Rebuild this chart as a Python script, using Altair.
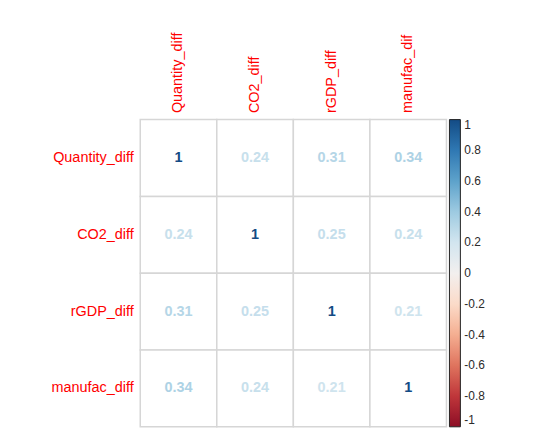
import altair as alt
import pandas as pd

variables = ["Quantity_diff", "CO2_diff", "rGDP_diff", "manufac_diff"]
col_labels = ["Quantity_diff", "CO2_diff", "rGDP_diff", "manufac_dif"]
corr = [
    [1.00, 0.24, 0.31, 0.34],
    [0.24, 1.00, 0.25, 0.24],
    [0.31, 0.25, 1.00, 0.21],
    [0.34, 0.24, 0.21, 1.00],
]
legend_ticks = [1, 0.8, 0.6, 0.4, 0.2, 0, -0.2, -0.4, -0.6, -0.8, -1]

rows = []
for i, rv in enumerate(variables):
    for j, cv in enumerate(col_labels):
        v = corr[i][j]
        rows.append({"row": rv, "col": cv, "value": v,
                     "label": "1" if v == 1 else f"{v:.2f}"})
df = pd.DataFrame(rows)

x = alt.X("col:N", sort=col_labels, title=None,
          axis=alt.Axis(orient="top", labelAngle=-90, labelColor="#FF0000",
                        labelFontSize=14.5, labelFont="Liberation Sans",
                        ticks=False, domain=False, labelPadding=7))
y = alt.Y("row:N", sort=variables, title=None,
          axis=alt.Axis(labelColor="#FF0000", labelFontSize=14.5,
                        labelFont="Liberation Sans", ticks=False,
                        domain=False, labelPadding=7))

color_scale = alt.Scale(scheme="redblue", domain=[-1, 1])

cells = alt.Chart(df).mark_rect(fill="white", stroke="#d6d6d6",
                                strokeWidth=1.5).encode(x=x, y=y)

texts = alt.Chart(df).mark_text(fontSize=14.5, fontWeight="bold",
                                font="Liberation Sans").encode(
    x=x, y=y,
    text="label:N",
    color=alt.Color("value:Q", scale=color_scale, title=None,
                    legend=alt.Legend(
                        values=legend_ticks,
                        labelExpr="replace(format(datum.value, '.1~f'), '\u2212', '-')",
                        gradientLength=309, gradientThickness=11,
                        gradientStrokeColor="#222222", gradientStrokeWidth=1,
                        labelFontSize=12, labelColor="#2b2b2b",
                        labelFont="Liberation Sans", offset=3,
                        labelOffset=4, labelOverlap=False)),
)

chart = alt.layer(cells, texts).properties(
    width=308, height=309,
    autosize=alt.AutoSizeParams(type="none"),
    padding={"left": 133, "top": 111, "right": 80, "bottom": 5},
).configure_view(stroke=None).configure_scale(bandPaddingInner=0, bandPaddingOuter=0)

chart.save("out.html", embed_options={"renderer": "svg", "actions": False})
